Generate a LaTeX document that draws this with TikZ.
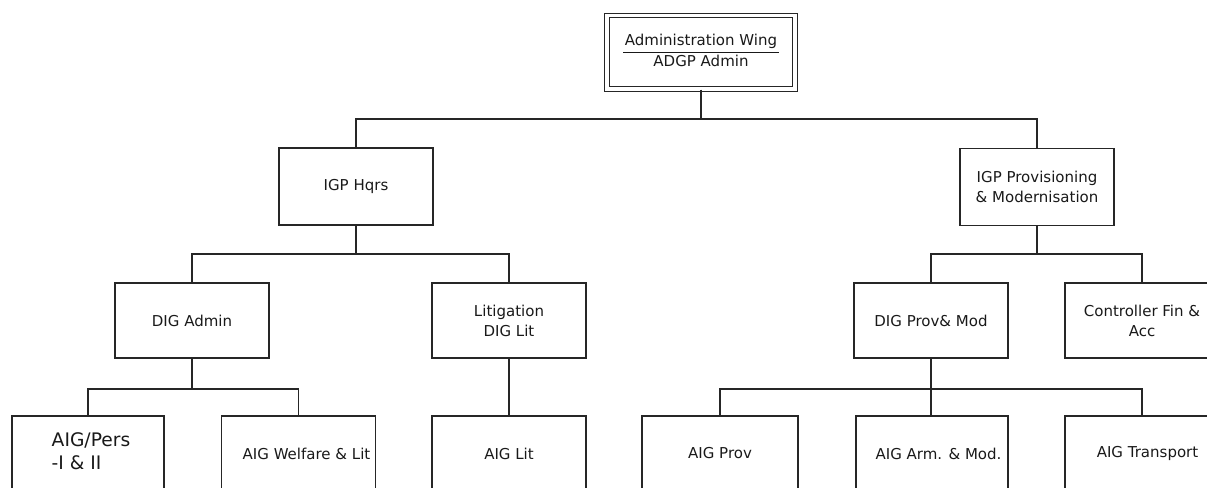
\documentclass[tikz,border=0pt]{standalone}
\usepackage{fontspec}
\setmainfont{DejaVu Sans}
\begin{document}
\begin{tikzpicture}[x=0.75pt,y=-0.75pt,
  box/.style={draw=black!85, line width=1.1pt, minimum width=115.5pt, minimum height=56.25pt,
    inner sep=0pt, align=center, text=black!90, font=\fontsize{11.25}{15}\selectfont},
  link/.style={draw=black!85, line width=1.1pt},
  topbox/.style={draw=black!85, line width=0.9pt, double=white, double distance=2.4pt,
    minimum width=141pt, minimum height=55.1pt, inner sep=0pt, text=black!90,
    font=\fontsize{11.25}{15}\selectfont}]
\useasboundingbox (0,0) rectangle (1207,487);
\clip (0,0) rectangle (1207,487);
% level 0
\node[topbox] (top) at (701,52.25)
  {\begin{tabular}{@{\hspace{1.2pt}}c@{\hspace{1.2pt}}}Administration Wing\\\hline ADGP Admin\end{tabular}};
% level 1
\node[box, minimum height=57.75pt] (hq) at (356,186.5) {IGP Hqrs};
\node[box, minimum height=57.75pt] (prov) at (1037,187) {IGP Provisioning\\\& Modernisation};
% level 2
\node[box] (dgadm) at (192,320.5) {DIG Admin};
\node[box] (litig) at (509,320.5) {Litigation\\DIG Lit};
\node[box] (digprov) at (931,320.5) {DIG Prov\& Mod};
\node[box] (ctrl) at (1142,320.5) {Controller Fin \&\\Acc};
% level 3
\node[box, minimum width=114pt] (pers) at (88,453.5)
  {\makebox[0pt]{\hspace*{4.5pt}\fontsize{14}{17.25}\selectfont\begin{tabular}{@{}l@{}}AIG/Pers\\-I \& II\end{tabular}}};
\node[box] (welf) at (298.5,453.5) {\makebox[0pt]{\hspace*{12pt}AIG Welfare \& Lit}};
\node[box] (aiglit) at (509,453.5) {AIG Lit};
\node[box, minimum width=117pt] (aigprov) at (720,453.5) {AIG Prov};
\node[box, minimum width=114pt] (aigarm) at (932,453.5) {\makebox[0pt]{\hspace*{9.75pt}AIG Arm. \& Mod.}};
\node[box] (aigtr) at (1142,453.5) {\makebox[0pt]{\hspace*{8.25pt}AIG Transport}};
% connectors
\coordinate (bus1) at (0,119);
\coordinate (bus2) at (0,254);
\coordinate (bus3) at (0,389);
\draw[link] (top.south) -- (top.south |- bus1);
\draw[link] (hq.north) |- (bus1 -| prov.north) -- (prov.north);
\draw[link] (hq.south) -- (hq.south |- bus2);
\draw[link] (dgadm.north) |- (bus2 -| litig.north) -- (litig.north);
\draw[link] (prov.south) -- (prov.south |- bus2);
\draw[link] (digprov.north) |- (bus2 -| ctrl.north) -- (ctrl.north);
\draw[link] (dgadm.south) -- (dgadm.south |- bus3);
\draw[link] (pers.north) |- (bus3 -| welf.north) -- (welf.north);
\draw[link] (litig.south) -- (aiglit.north);
\draw[link] (digprov.south) -- (digprov.south |- aigarm.north);
\draw[link] (aigprov.north) |- (bus3 -| aigtr.north) -- (aigtr.north);
\end{tikzpicture}
\end{document}
